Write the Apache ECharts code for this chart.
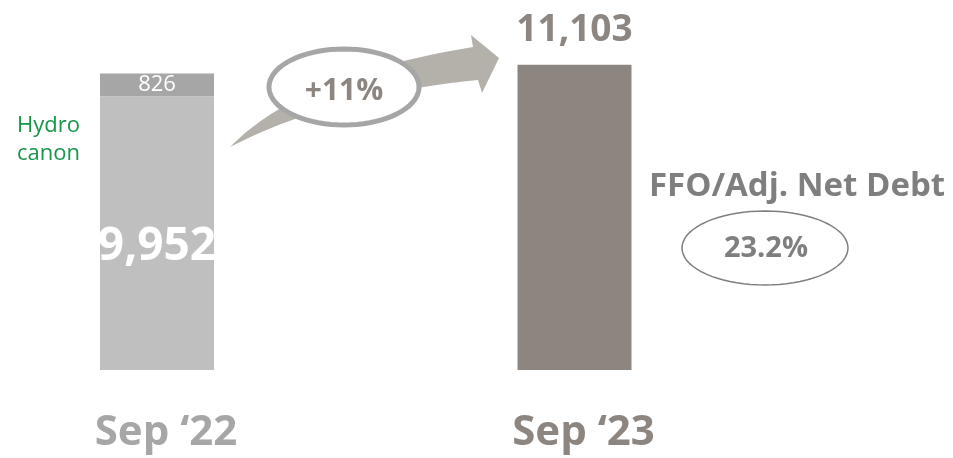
<!DOCTYPE html>
<html>
<head>
<meta charset="utf-8">
<script src="https://cdn.jsdelivr.net/npm/echarts@6/dist/echarts.min.js"></script>
<style>
  html, body { margin: 0; padding: 0; background: #fff; }
  #chart { width: 953px; height: 458px; }
</style>
</head>
<body>
<div id="chart"></div>
<script>
// data
var categories = ['Sep \u201822', 'Sep \u201823'];
var baseValues = [9952, 11103];
var hydroValues = [826, null];
var growthText = '+11%';
var ffoTitle = 'FFO/Adj. Net Debt';
var ffoValue = '23.2%';

var FONT = 'Open Sans';
var fmt = function (p) { return p.value.toLocaleString('en-US'); };

// outline helpers for the slide decorations
function ellipsePts(cx, cy, rx, ry) {
    var pts = [];
    for (var i = 0; i < 72; i++) {
        var a = i / 72 * Math.PI * 2;
        pts.push([cx + rx * Math.cos(a), cy + ry * Math.sin(a)]);
    }
    return pts;
}
function quadPts(p0, c, p1) {
    var pts = [];
    for (var i = 0; i <= 20; i++) {
        var t = i / 20, u = 1 - t;
        pts.push([u * u * p0[0] + 2 * u * t * c[0] + t * t * p1[0],
                  u * u * p0[1] + 2 * u * t * c[1] + t * t * p1[1]]);
    }
    return pts;
}
var arrowPts = quadPts([230, 147], [300, 75], [473, 47])
    .concat([[471, 35], [499, 58], [482, 93]])
    .concat(quadPts([478, 80], [330, 95], [230, 147]));

var chart = echarts.init(document.getElementById('chart'));

var option = {
    animation: false,
    backgroundColor: '#ffffff',
    grid: { left: 157, right: 378.5, top: 40, bottom: 88 },
    xAxis: {
        type: 'category',
        boundaryGap: false,
        data: [
            { value: categories[0], textStyle: { color: '#a6a6a6' } },
            { value: categories[1], textStyle: { color: '#8d8680' } }
        ],
        axisLine: { show: false },
        axisTick: { show: false },
        axisLabel: { fontFamily: FONT, fontWeight: 'bold', fontSize: 42, margin: 42, interval: 0,
            padding: [0, 0, 0, 18] }
    },
    yAxis: { type: 'value', min: 0, max: 12000, show: false },
    series: [
        {
            type: 'bar',
            stack: 'total',
            barWidth: 114,
            data: [
                {
                    value: baseValues[0],
                    itemStyle: { color: '#bfbfbf' },
                    label: { show: true, position: 'inside', offset: [0, 14], color: '#ffffff',
                        fontFamily: FONT, fontWeight: 'bold', fontSize: 46, formatter: fmt }
                },
                {
                    value: baseValues[1],
                    itemStyle: { color: '#8d8680' },
                    label: { show: true, position: 'top', distance: 16, color: '#8d8680',
                        fontFamily: FONT, fontWeight: 'bold', fontSize: 37, formatter: fmt }
                }
            ]
        },
        {
            type: 'bar',
            stack: 'total',
            barWidth: 114,
            itemStyle: { color: '#a6a6a6' },
            label: { show: true, position: 'inside', color: '#ffffff', fontFamily: FONT,
                fontSize: 22, formatter: fmt },
            data: hydroValues
        }
    ],
    graphic: [
        {
            type: 'text', left: 17, top: 112,
            style: { text: 'Hydro\ncanon', fill: '#17954a', font: '22px "' + FONT + '"', lineHeight: 28 }
        },
        {
            type: 'polygon',
            shape: { points: arrowPts },
            style: { fill: '#b4b0aa' }
        },
        {
            type: 'polygon',
            shape: { points: ellipsePts(344, 87, 75, 38) },
            style: { fill: '#ffffff', stroke: '#a6a6a6', lineWidth: 5 }
        },
        {
            type: 'text', x: 344, y: 91,
            style: { text: growthText, fill: '#8d8680', font: 'bold 30px "' + FONT + '"',
                align: 'center', verticalAlign: 'middle' }
        },
        {
            type: 'text', x: 797, y: 187,
            style: { text: ffoTitle, fill: '#7f7f7f', font: 'bold 33px "' + FONT + '"',
                align: 'center', verticalAlign: 'middle' }
        },
        {
            type: 'polygon',
            shape: { points: ellipsePts(765, 248, 83, 37) },
            style: { fill: 'none', stroke: '#7f7f7f', lineWidth: 1.5 }
        },
        {
            type: 'text', x: 766, y: 249,
            style: { text: ffoValue, fill: '#7f7f7f', font: 'bold 29px "' + FONT + '"',
                align: 'center', verticalAlign: 'middle' }
        }
    ]
};

chart.setOption(option);
</script>
</body>
</html>
